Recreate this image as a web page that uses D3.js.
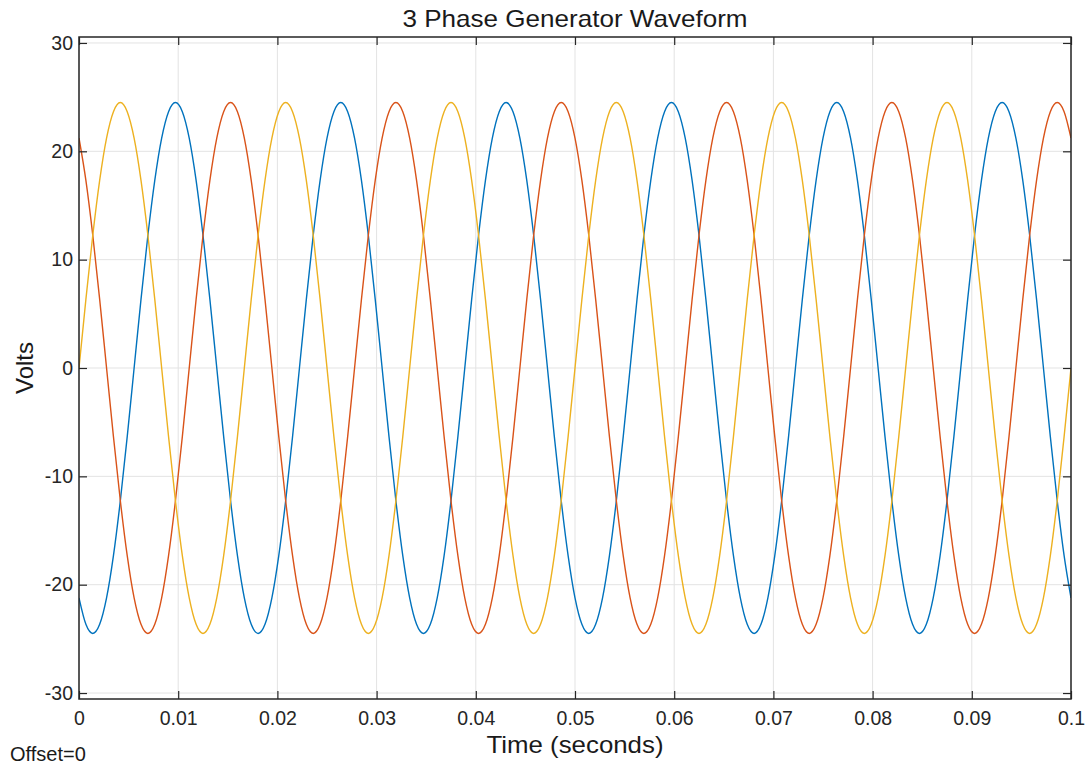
<!DOCTYPE html>
<html>
<head>
<meta charset="utf-8">
<script src="https://cdn.jsdelivr.net/npm/d3@7"></script>
<style>
  body { margin: 0; background: #fff; }
  svg { display: block; font-family: "Liberation Sans", Arial, Helvetica, sans-serif; }
</style>
</head>
<body>
<div id="chart"></div>
<script>
// samples every 1/1440 s (15 degrees of a 60 Hz cycle), 0 .. 0.1 s
const sampleStep = 1 / 1440;

const phaseA = [ // blue
  -21.22, -23.66, -24.5, -23.66, -21.22, -17.32, -12.25, -6.34, 0, 6.34, 12.25, 17.32, 21.22, 23.66, 24.5, 23.66, 21.22, 17.32, 12.25, 6.34, 0, -6.34, -12.25, -17.32,
  -21.22, -23.66, -24.5, -23.66, -21.22, -17.32, -12.25, -6.34, 0, 6.34, 12.25, 17.32, 21.22, 23.66, 24.5, 23.66, 21.22, 17.32, 12.25, 6.34, 0, -6.34, -12.25, -17.32,
  -21.22, -23.66, -24.5, -23.66, -21.22, -17.32, -12.25, -6.34, 0, 6.34, 12.25, 17.32, 21.22, 23.66, 24.5, 23.66, 21.22, 17.32, 12.25, 6.34, 0, -6.34, -12.25, -17.32,
  -21.22, -23.66, -24.5, -23.66, -21.22, -17.32, -12.25, -6.34, 0, 6.34, 12.25, 17.32, 21.22, 23.66, 24.5, 23.66, 21.22, 17.32, 12.25, 6.34, 0, -6.34, -12.25, -17.32,
  -21.22, -23.66, -24.5, -23.66, -21.22, -17.32, -12.25, -6.34, 0, 6.34, 12.25, 17.32, 21.22, 23.66, 24.5, 23.66, 21.22, 17.32, 12.25, 6.34, 0, -6.34, -12.25, -17.32,
  -21.22, -23.66, -24.5, -23.66, -21.22, -17.32, -12.25, -6.34, 0, 6.34, 12.25, 17.32, 21.22, 23.66, 24.5, 23.66, 21.22, 17.32, 12.25, 6.34, 0, -6.34, -12.25, -17.32,
  -21.22
];

const phaseB = [ // red
  21.22, 17.32, 12.25, 6.34, 0, -6.34, -12.25, -17.32, -21.22, -23.66, -24.5, -23.66, -21.22, -17.32, -12.25, -6.34, 0, 6.34, 12.25, 17.32, 21.22, 23.66, 24.5, 23.66,
  21.22, 17.32, 12.25, 6.34, 0, -6.34, -12.25, -17.32, -21.22, -23.66, -24.5, -23.66, -21.22, -17.32, -12.25, -6.34, 0, 6.34, 12.25, 17.32, 21.22, 23.66, 24.5, 23.66,
  21.22, 17.32, 12.25, 6.34, 0, -6.34, -12.25, -17.32, -21.22, -23.66, -24.5, -23.66, -21.22, -17.32, -12.25, -6.34, 0, 6.34, 12.25, 17.32, 21.22, 23.66, 24.5, 23.66,
  21.22, 17.32, 12.25, 6.34, 0, -6.34, -12.25, -17.32, -21.22, -23.66, -24.5, -23.66, -21.22, -17.32, -12.25, -6.34, 0, 6.34, 12.25, 17.32, 21.22, 23.66, 24.5, 23.66,
  21.22, 17.32, 12.25, 6.34, 0, -6.34, -12.25, -17.32, -21.22, -23.66, -24.5, -23.66, -21.22, -17.32, -12.25, -6.34, 0, 6.34, 12.25, 17.32, 21.22, 23.66, 24.5, 23.66,
  21.22, 17.32, 12.25, 6.34, 0, -6.34, -12.25, -17.32, -21.22, -23.66, -24.5, -23.66, -21.22, -17.32, -12.25, -6.34, 0, 6.34, 12.25, 17.32, 21.22, 23.66, 24.5, 23.66,
  21.22
];

const phaseC = [ // yellow
  0, 6.34, 12.25, 17.32, 21.22, 23.66, 24.5, 23.66, 21.22, 17.32, 12.25, 6.34, 0, -6.34, -12.25, -17.32, -21.22, -23.66, -24.5, -23.66, -21.22, -17.32, -12.25, -6.34,
  0, 6.34, 12.25, 17.32, 21.22, 23.66, 24.5, 23.66, 21.22, 17.32, 12.25, 6.34, 0, -6.34, -12.25, -17.32, -21.22, -23.66, -24.5, -23.66, -21.22, -17.32, -12.25, -6.34,
  0, 6.34, 12.25, 17.32, 21.22, 23.66, 24.5, 23.66, 21.22, 17.32, 12.25, 6.34, 0, -6.34, -12.25, -17.32, -21.22, -23.66, -24.5, -23.66, -21.22, -17.32, -12.25, -6.34,
  0, 6.34, 12.25, 17.32, 21.22, 23.66, 24.5, 23.66, 21.22, 17.32, 12.25, 6.34, 0, -6.34, -12.25, -17.32, -21.22, -23.66, -24.5, -23.66, -21.22, -17.32, -12.25, -6.34,
  0, 6.34, 12.25, 17.32, 21.22, 23.66, 24.5, 23.66, 21.22, 17.32, 12.25, 6.34, 0, -6.34, -12.25, -17.32, -21.22, -23.66, -24.5, -23.66, -21.22, -17.32, -12.25, -6.34,
  0, 6.34, 12.25, 17.32, 21.22, 23.66, 24.5, 23.66, 21.22, 17.32, 12.25, 6.34, 0, -6.34, -12.25, -17.32, -21.22, -23.66, -24.5, -23.66, -21.22, -17.32, -12.25, -6.34,
  0
];

const xTicks = [0, 0.01, 0.02, 0.03, 0.04, 0.05, 0.06, 0.07, 0.08, 0.09, 0.1];
const yTicks = [-30, -20, -10, 0, 10, 20, 30];

const series = [
  { name: "A", values: phaseA, color: "#0072bd" },
  { name: "B", values: phaseB, color: "#d95319" },
  { name: "C", values: phaseC, color: "#edb120" },
];

const width = 1090, height = 767;
const margin = { top: 37, right: 19, bottom: 68, left: 79 };

const x = d3.scaleLinear([0, 0.1], [margin.left, width - margin.right]);
const y = d3.scaleLinear([-30.55, 30.55], [height - margin.bottom, margin.top]);

const svg = d3
  .select("#chart")
  .append("svg")
  .attr("width", width)
  .attr("height", height);

svg.append("defs").append("clipPath").attr("id", "plot-clip")
  .append("rect")
  .attr("x", margin.left)
  .attr("y", margin.top)
  .attr("width", width - margin.left - margin.right)
  .attr("height", height - margin.top - margin.bottom);

// grid lines
svg.append("g")
  .selectAll("line")
  .data(xTicks)
  .join("line")
  .attr("x1", (d) => x(d)).attr("x2", (d) => x(d))
  .attr("y1", margin.top).attr("y2", height - margin.bottom)
  .attr("stroke", "#e3e3e3").attr("stroke-width", 1);

svg.append("g")
  .selectAll("line")
  .data(yTicks)
  .join("line")
  .attr("x1", margin.left).attr("x2", width - margin.right)
  .attr("y1", (d) => y(d)).attr("y2", (d) => y(d))
  .attr("stroke", "#e3e3e3").attr("stroke-width", 1);

// the three phases
const line = d3
  .line()
  .x((d, i) => x(i * sampleStep))
  .y((d) => y(d))
  .curve(d3.curveMonotoneX);

svg.append("g")
  .attr("clip-path", "url(#plot-clip)")
  .selectAll("path")
  .data(series)
  .join("path")
  .attr("fill", "none")
  .attr("stroke", (d) => d.color)
  .attr("stroke-width", 1.4)
  .attr("d", (d) => line(d.values));

// axes: ticks point inward on all four sides
const tickLen = 8;
svg.append("g")
  .attr("transform", `translate(0,${height - margin.bottom})`)
  .call(d3.axisBottom(x).tickValues(xTicks).tickSize(-tickLen).tickPadding(12).tickFormat(d3.format("~g")))
  .call((g) => g.select(".domain").remove())
  .call((g) => g.selectAll("text").attr("font-size", 19.5).attr("fill", "#262626").attr("font-family", null));

svg.append("g")
  .attr("transform", `translate(0,${margin.top})`)
  .call(d3.axisTop(x).tickValues(xTicks).tickSize(-tickLen).tickFormat(""))
  .call((g) => g.select(".domain").remove());

svg.append("g")
  .attr("transform", `translate(${margin.left},0)`)
  .call(d3.axisLeft(y).tickValues(yTicks).tickSize(-tickLen).tickPadding(6).tickFormat((d) => String(d)))
  .call((g) => g.select(".domain").remove())
  .call((g) => g.selectAll("text").attr("font-size", 19.5).attr("fill", "#262626").attr("font-family", null));

svg.append("g")
  .attr("transform", `translate(${width - margin.right},0)`)
  .call(d3.axisRight(y).tickValues(yTicks).tickSize(-tickLen).tickFormat(""))
  .call((g) => g.select(".domain").remove());

svg.selectAll(".tick line").attr("stroke", "#262626").attr("stroke-width", 1.2);

// plot box
svg.append("rect")
  .attr("x", margin.left)
  .attr("y", margin.top)
  .attr("width", width - margin.left - margin.right)
  .attr("height", height - margin.top - margin.bottom)
  .attr("fill", "none")
  .attr("stroke", "#262626")
  .attr("stroke-width", 1.5);

// labels
svg.append("text")
  .attr("x", (margin.left + width - margin.right) / 2)
  .attr("y", 27)
  .attr("text-anchor", "middle")
  .attr("font-size", 24)
  .attr("textLength", 345)
  .attr("lengthAdjust", "spacingAndGlyphs")
  .attr("fill", "#1a1a1a")
  .text("3 Phase Generator Waveform");

svg.append("text")
  .attr("x", (margin.left + width - margin.right) / 2)
  .attr("y", 753)
  .attr("text-anchor", "middle")
  .attr("font-size", 24)
  .attr("textLength", 177)
  .attr("lengthAdjust", "spacingAndGlyphs")
  .attr("fill", "#1a1a1a")
  .text("Time (seconds)");

svg.append("text")
  .attr("transform", `translate(33,${(margin.top + height - margin.bottom) / 2}) rotate(-90)`)
  .attr("text-anchor", "middle")
  .attr("font-size", 24)
  .attr("fill", "#1a1a1a")
  .text("Volts");

svg.append("text")
  .attr("x", 10)
  .attr("y", 761)
  .attr("font-size", 20)
  .attr("fill", "#1a1a1a")
  .text("Offset=0");
</script>
</body>
</html>
